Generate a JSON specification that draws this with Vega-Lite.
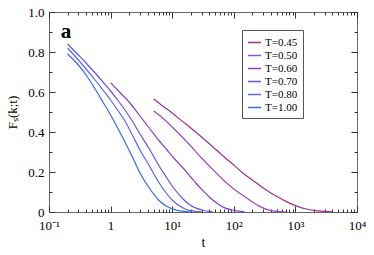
{
  "$schema": "https://vega.github.io/schema/vega-lite/v6.json",
  "width": 308,
  "height": 200,
  "autosize": "none",
  "padding": {"left": 49, "top": 12, "right": 17, "bottom": 43},
  "background": "white",
  "config": {
    "view": {"stroke": "#666666", "strokeWidth": 1},
    "font": "Liberation Serif",
    "axis": {"ticks": true, "tickColor": "#333333", "tickWidth": 1, "domain": false, "grid": false}
  },
  "datasets": {
    "curves": [
      {"T": "T=0.45", "t": 5, "F": 0.565}, {"T": "T=0.45", "t": 7, "F": 0.53}, {"T": "T=0.45", "t": 10, "F": 0.495},
      {"T": "T=0.45", "t": 14, "F": 0.458}, {"T": "T=0.45", "t": 20, "F": 0.42}, {"T": "T=0.45", "t": 30, "F": 0.375},
      {"T": "T=0.45", "t": 50, "F": 0.315}, {"T": "T=0.45", "t": 70, "F": 0.275}, {"T": "T=0.45", "t": 100, "F": 0.235},
      {"T": "T=0.45", "t": 140, "F": 0.195}, {"T": "T=0.45", "t": 200, "F": 0.16}, {"T": "T=0.45", "t": 300, "F": 0.12},
      {"T": "T=0.45", "t": 400, "F": 0.095}, {"T": "T=0.45", "t": 500, "F": 0.078}, {"T": "T=0.45", "t": 700, "F": 0.053},
      {"T": "T=0.45", "t": 1000, "F": 0.032}, {"T": "T=0.45", "t": 1500, "F": 0.015}, {"T": "T=0.45", "t": 2000, "F": 0.008},
      {"T": "T=0.45", "t": 3000, "F": 0.003}, {"T": "T=0.45", "t": 4000, "F": 0.001},

      {"T": "T=0.50", "t": 5, "F": 0.505}, {"T": "T=0.50", "t": 7, "F": 0.47}, {"T": "T=0.50", "t": 10, "F": 0.425},
      {"T": "T=0.50", "t": 14, "F": 0.38}, {"T": "T=0.50", "t": 20, "F": 0.33}, {"T": "T=0.50", "t": 30, "F": 0.27},
      {"T": "T=0.50", "t": 40, "F": 0.23}, {"T": "T=0.50", "t": 50, "F": 0.2}, {"T": "T=0.50", "t": 65, "F": 0.165},
      {"T": "T=0.50", "t": 80, "F": 0.14}, {"T": "T=0.50", "t": 100, "F": 0.115}, {"T": "T=0.50", "t": 130, "F": 0.09},
      {"T": "T=0.50", "t": 180, "F": 0.06}, {"T": "T=0.50", "t": 250, "F": 0.032}, {"T": "T=0.50", "t": 350, "F": 0.012},
      {"T": "T=0.50", "t": 500, "F": 0.003}, {"T": "T=0.50", "t": 700, "F": 0.0},

      {"T": "T=0.60", "t": 1, "F": 0.647}, {"T": "T=0.60", "t": 1.5, "F": 0.59}, {"T": "T=0.60", "t": 2, "F": 0.55},
      {"T": "T=0.60", "t": 3, "F": 0.48}, {"T": "T=0.60", "t": 4.36, "F": 0.415}, {"T": "T=0.60", "t": 6, "F": 0.36},
      {"T": "T=0.60", "t": 8, "F": 0.315}, {"T": "T=0.60", "t": 11, "F": 0.265}, {"T": "T=0.60", "t": 15, "F": 0.22},
      {"T": "T=0.60", "t": 20, "F": 0.175}, {"T": "T=0.60", "t": 25, "F": 0.14}, {"T": "T=0.60", "t": 32, "F": 0.105},
      {"T": "T=0.60", "t": 40, "F": 0.075}, {"T": "T=0.60", "t": 50, "F": 0.05}, {"T": "T=0.60", "t": 70, "F": 0.022},
      {"T": "T=0.60", "t": 100, "F": 0.008}, {"T": "T=0.60", "t": 150, "F": 0.001},

      {"T": "T=0.70", "t": 0.2, "F": 0.84}, {"T": "T=0.70", "t": 0.3, "F": 0.785}, {"T": "T=0.70", "t": 0.4, "F": 0.745},
      {"T": "T=0.70", "t": 0.56, "F": 0.695}, {"T": "T=0.70", "t": 0.75, "F": 0.65}, {"T": "T=0.70", "t": 1, "F": 0.605},
      {"T": "T=0.70", "t": 1.3, "F": 0.56}, {"T": "T=0.70", "t": 1.71, "F": 0.51}, {"T": "T=0.70", "t": 2.3, "F": 0.45},
      {"T": "T=0.70", "t": 3, "F": 0.39}, {"T": "T=0.70", "t": 4.36, "F": 0.31}, {"T": "T=0.70", "t": 6, "F": 0.235},
      {"T": "T=0.70", "t": 8, "F": 0.175}, {"T": "T=0.70", "t": 10, "F": 0.13}, {"T": "T=0.70", "t": 15, "F": 0.065},
      {"T": "T=0.70", "t": 20, "F": 0.032}, {"T": "T=0.70", "t": 30, "F": 0.01}, {"T": "T=0.70", "t": 45, "F": 0.002},

      {"T": "T=0.80", "t": 0.2, "F": 0.82}, {"T": "T=0.80", "t": 0.3, "F": 0.76}, {"T": "T=0.80", "t": 0.4, "F": 0.715},
      {"T": "T=0.80", "t": 0.56, "F": 0.66}, {"T": "T=0.80", "t": 0.75, "F": 0.61}, {"T": "T=0.80", "t": 1, "F": 0.56},
      {"T": "T=0.80", "t": 1.3, "F": 0.51}, {"T": "T=0.80", "t": 1.71, "F": 0.455}, {"T": "T=0.80", "t": 2.3, "F": 0.38},
      {"T": "T=0.80", "t": 3, "F": 0.31}, {"T": "T=0.80", "t": 4.36, "F": 0.225}, {"T": "T=0.80", "t": 6, "F": 0.15},
      {"T": "T=0.80", "t": 8, "F": 0.095}, {"T": "T=0.80", "t": 10, "F": 0.06}, {"T": "T=0.80", "t": 15, "F": 0.02},
      {"T": "T=0.80", "t": 20, "F": 0.007}, {"T": "T=0.80", "t": 30, "F": 0.001},

      {"T": "T=1.00", "t": 0.2, "F": 0.79}, {"T": "T=1.00", "t": 0.3, "F": 0.735}, {"T": "T=1.00", "t": 0.4, "F": 0.685},
      {"T": "T=1.00", "t": 0.56, "F": 0.615}, {"T": "T=1.00", "t": 0.75, "F": 0.55}, {"T": "T=1.00", "t": 1, "F": 0.485},
      {"T": "T=1.00", "t": 1.3, "F": 0.42}, {"T": "T=1.00", "t": 1.71, "F": 0.35}, {"T": "T=1.00", "t": 2.3, "F": 0.27},
      {"T": "T=1.00", "t": 3, "F": 0.195}, {"T": "T=1.00", "t": 4.36, "F": 0.115}, {"T": "T=1.00", "t": 6, "F": 0.06},
      {"T": "T=1.00", "t": 8, "F": 0.03}, {"T": "T=1.00", "t": 12, "F": 0.008}, {"T": "T=1.00", "t": 20, "F": 0.001}
    ],
    "label": [{"name": "a"}]
  },
  "layer": [
    {
      "data": {"name": "curves"},
      "mark": {"type": "line", "interpolate": "monotone", "strokeWidth": 1.2, "clip": true},
      "encoding": {
        "x": {
          "field": "t", "type": "quantitative",
          "scale": {"type": "log", "domain": [0.1, 10000]},
          "axis": {
            "orient": "bottom", "offset": -6, "tickSize": 6,
            "title": "t", "titleFont": "Liberation Serif", "titleFontSize": 14, "titleFontWeight": "normal", "titleColor": "#000", "titlePadding": 3,
            "values": [0.1, 1, 10, 100, 1000, 10000],
            "labelExpr": "datum.value == 0.1 ? '10⁻¹' : datum.value == 1 ? '1' : datum.value == 10 ? '10¹' : datum.value == 100 ? '10²' : datum.value == 1000 ? '10³' : '10⁴'",
            "labelFont": "Liberation Serif", "labelFontSize": 13, "labelColor": "#000", "labelPadding": 7, "labelOverlap": false, "labelFlush": false
          }
        },
        "y": {
          "field": "F", "type": "quantitative",
          "scale": {"domain": [0, 1]},
          "axis": {
            "orient": "left", "offset": -6, "tickSize": 6,
            "title": "Fₛ(k;t)", "titleFont": "Liberation Serif", "titleFontSize": 13, "titleFontWeight": "normal", "titleColor": "#000", "titlePadding": 8,
            "values": [0, 0.2, 0.4, 0.6, 0.8, 1],
            "labelExpr": "datum.value == 0 ? '0' : format(datum.value, '.1f')",
            "labelFont": "Liberation Serif", "labelFontSize": 13, "labelColor": "#000", "labelPadding": 5, "labelFlush": false
          }
        },
        "color": {
          "field": "T", "type": "nominal",
          "scale": {
            "domain": ["T=0.45", "T=0.50", "T=0.60", "T=0.70", "T=0.80", "T=1.00"],
            "range": ["#a0308a", "#9a4cc0", "#8a40c8", "#6a50e8", "#5a64f0", "#3868ff"]
          },
          "legend": {
            "orient": "none", "legendX": 193, "legendY": 18,
            "title": null,
            "symbolType": "stroke", "symbolSize": 169, "symbolStrokeWidth": 1.5,
            "labelFont": "Liberation Serif", "labelFontSize": 11, "labelColor": "#000", "labelOffset": 3,
            "rowPadding": 0,
            "padding": 5, "strokeColor": "#555", "fillColor": "white",
            "labelLimit": 200
          }
        }
      }
    },
    {
      "data": {"name": "label"},
      "mark": {"type": "text", "font": "Liberation Serif", "fontSize": 21, "fontWeight": "bold", "align": "left", "baseline": "middle", "color": "#000"},
      "encoding": {
        "x": {"datum": 0.155, "type": "quantitative", "scale": {"type": "log", "domain": [0.1, 10000]},
          "axis": {"orient": "top", "offset": -6, "tickSize": 6, "title": null, "labels": false,
            "values": [0.1, 1, 10, 100, 1000, 10000]}},
        "y": {"datum": 0.9, "type": "quantitative", "scale": {"domain": [0, 1]},
          "axis": {"orient": "right", "offset": -6, "tickSize": 6, "title": null, "labels": false,
            "values": [0, 0.2, 0.4, 0.6, 0.8, 1]}},
        "text": {"field": "name"}
      }
    },
    {
      "data": {"name": "label"},
      "mark": {"type": "text", "opacity": 0},
      "encoding": {
        "x": {"datum": 0.155, "type": "quantitative", "scale": {"type": "log", "domain": [0.1, 10000]},
          "axis": {"orient": "bottom", "offset": -3, "tickSize": 3, "title": null, "labels": false,
            "values": [0.2,0.3,0.4,0.5,0.6,0.7,0.8,0.9,2,3,4,5,6,7,8,9,20,30,40,50,60,70,80,90,200,300,400,500,600,700,800,900,2000,3000,4000,5000,6000,7000,8000,9000]}},
        "y": {"datum": 0.9, "type": "quantitative", "scale": {"domain": [0, 1]},
          "axis": {"orient": "left", "offset": -3, "tickSize": 3, "title": null, "labels": false,
            "values": [0.1, 0.3, 0.5, 0.7, 0.9]}},
        "text": {"value": ""}
      }
    },
    {
      "data": {"name": "label"},
      "mark": {"type": "text", "opacity": 0},
      "encoding": {
        "x": {"datum": 0.155, "type": "quantitative", "scale": {"type": "log", "domain": [0.1, 10000]},
          "axis": {"orient": "top", "offset": -3, "tickSize": 3, "title": null, "labels": false,
            "values": [0.2,0.3,0.4,0.5,0.6,0.7,0.8,0.9,2,3,4,5,6,7,8,9,20,30,40,50,60,70,80,90,200,300,400,500,600,700,800,900,2000,3000,4000,5000,6000,7000,8000,9000]}},
        "y": {"datum": 0.9, "type": "quantitative", "scale": {"domain": [0, 1]},
          "axis": {"orient": "right", "offset": -3, "tickSize": 3, "title": null, "labels": false,
            "values": [0.1, 0.3, 0.5, 0.7, 0.9]}},
        "text": {"value": ""}
      }
    }
  ],
  "resolve": {"axis": {"x": "independent", "y": "independent"}}
}
